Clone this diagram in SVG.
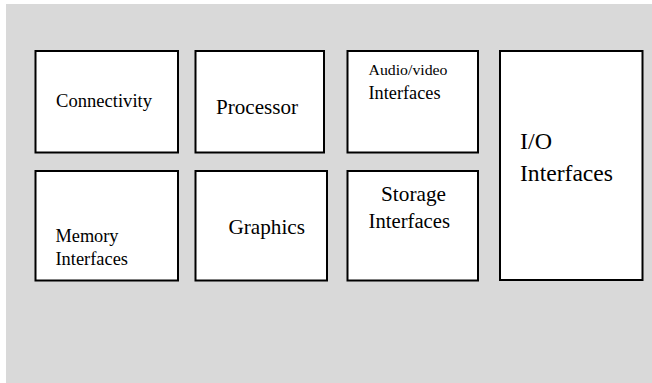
<svg xmlns="http://www.w3.org/2000/svg" width="652" height="383" viewBox="0 0 652 383">
<style>
.box{fill:#ffffff;stroke:#000000;stroke-width:2}
.t{font-family:'Liberation Serif','Times New Roman','DejaVu Serif',serif;fill:#000000}
</style>
<rect x="0" y="0" width="652" height="383" fill="#ffffff"/>
<rect x="6" y="4" width="646" height="379" fill="#d9d9d9"/>
<g id="connectivity">
<rect class="box" x="35.5" y="51" width="142.5" height="101.5"/>
<text class="t" style="font-family:'Liberation Serif',serif" x="56" y="107.3" font-size="18.6" textLength="96" lengthAdjust="spacingAndGlyphs">Connectivity</text>
</g>
<g id="processor">
<rect class="box" x="195.5" y="51" width="128.5" height="101.5"/>
<text class="t" style="font-family:'Liberation Serif',serif" x="216" y="113.5" font-size="21" textLength="82" lengthAdjust="spacingAndGlyphs">Processor</text>
</g>
<g id="audio-video">
<rect class="box" x="347.5" y="51" width="130.5" height="101.5"/>
<text class="t" style="font-family:'Liberation Serif',serif" x="368.5" y="75" font-size="15.5" textLength="79" lengthAdjust="spacingAndGlyphs">Audio/video</text>
<text class="t" style="font-family:'Liberation Serif',serif" x="368.5" y="99" font-size="18" textLength="72" lengthAdjust="spacingAndGlyphs">Interfaces</text>
</g>
<g id="io">
<rect class="box" x="500" y="51" width="142.5" height="229"/>
<text class="t" style="font-family:'Liberation Serif',serif" x="520" y="148.5" font-size="24">I/O</text>
<text class="t" style="font-family:'Liberation Serif',serif" x="520" y="180.5" font-size="24" textLength="93" lengthAdjust="spacingAndGlyphs">Interfaces</text>
</g>
<g id="memory">
<rect class="box" x="35.5" y="171" width="142.5" height="109.5"/>
<text class="t" style="font-family:'Liberation Serif',serif" x="55.5" y="241.5" font-size="18" textLength="63" lengthAdjust="spacingAndGlyphs">Memory</text>
<text class="t" style="font-family:'Liberation Serif',serif" x="55.5" y="264.5" font-size="18" textLength="72.5" lengthAdjust="spacingAndGlyphs">Interfaces</text>
</g>
<g id="graphics">
<rect class="box" x="195.5" y="171" width="131.5" height="109.5"/>
<text class="t" style="font-family:'Liberation Serif',serif" x="228.5" y="234" font-size="21" textLength="76.5" lengthAdjust="spacingAndGlyphs">Graphics</text>
</g>
<g id="storage">
<rect class="box" x="347.5" y="171" width="130.5" height="109.5"/>
<text class="t" style="font-family:'Liberation Serif',serif" x="381" y="200.5" font-size="21" textLength="65" lengthAdjust="spacingAndGlyphs">Storage</text>
<text class="t" style="font-family:'Liberation Serif',serif" x="368.5" y="228" font-size="20.5" textLength="81.5" lengthAdjust="spacingAndGlyphs">Interfaces</text>
</g>
<g id="connectors"></g>
</svg>
